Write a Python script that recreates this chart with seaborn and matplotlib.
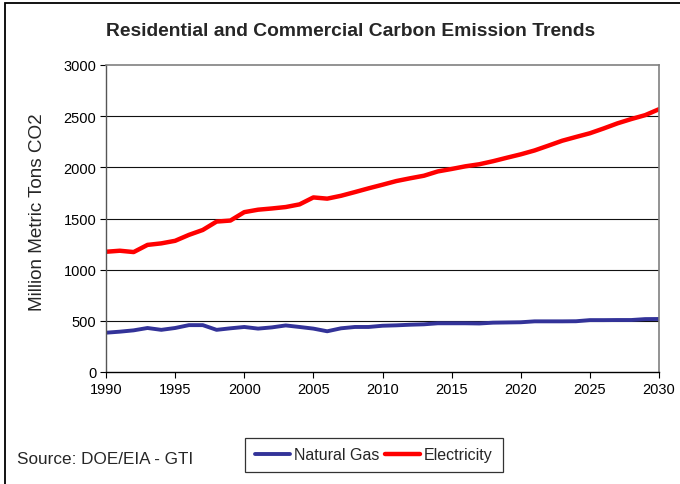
import matplotlib
matplotlib.use("Agg")
import matplotlib.pyplot as plt
from matplotlib.patches import Rectangle
import seaborn as sns
import pandas as pd

years = list(range(1990, 2031))
electricity = [1175, 1185, 1172, 1242, 1257, 1282, 1340, 1388, 1470, 1480,
               1562, 1586, 1598, 1612, 1638, 1706, 1694, 1722, 1758, 1795,
               1830, 1866, 1893, 1918, 1960, 1984, 2010, 2030, 2060, 2094,
               2127, 2165, 2212, 2260, 2297, 2333, 2380, 2430, 2472, 2510,
               2568]
natural_gas = [384, 394, 407, 430, 412, 430, 458, 458, 412, 427,
               440, 424, 436, 455, 440, 424, 398, 427, 440, 440,
               452, 456, 462, 466, 476, 476, 476, 474, 482, 484,
               486, 495, 495, 495, 496, 507, 507, 508, 508, 517,
               518]
series_names = ["Natural Gas", "Electricity"]
y_ticks = [0, 500, 1000, 1500, 2000, 2500, 3000]
x_ticks = [1990, 1995, 2000, 2005, 2010, 2015, 2020, 2025, 2030]

df = pd.DataFrame({
    "Year": years * 2,
    "Emissions": natural_gas + electricity,
    "Series": [series_names[0]] * len(years) + [series_names[1]] * len(years),
})

sns.set_theme(style="white")
plt.rcParams["font.family"] = ["Liberation Sans", "DejaVu Sans"]

fig = plt.figure(figsize=(6.8, 4.85), dpi=100)
ax = fig.add_axes([106 / 680, 1 - 373 / 485, (659 - 106) / 680, (373 - 66) / 485])

palette = {"Natural Gas": "#333399", "Electricity": "#FF0000"}
widths = {"Natural Gas": 2.8, "Electricity": 3.2}
sns.lineplot(data=df, x="Year", y="Emissions", hue="Series", palette=palette,
             ax=ax, legend=False)
for line, name in zip(ax.get_lines(), series_names):
    line.set_linewidth(widths[name])
    line.set_solid_joinstyle("round")

ax.set_xlim(1990, 2030)
ax.set_ylim(0, 3000)
ax.set_xticks(x_ticks)
ax.set_yticks(y_ticks)
ax.set_xlabel("")
ax.set_ylabel("")
ax.tick_params(axis="both", which="major", direction="out", length=4,
               width=0.8, color="black", labelsize=10.5, pad=3,
               labelcolor="black")
ax.tick_params(axis="x", bottom=True)
ax.tick_params(axis="y", left=True)
for yv in y_ticks[1:-1]:
    ax.axhline(yv, color="#111111", lw=0.8, zorder=0.5)

for side in ["top", "right"]:
    ax.spines[side].set_color("#808080")
    ax.spines[side].set_linewidth(1.2)
ax.spines["left"].set_color("#555555")
ax.spines["left"].set_linewidth(1.0)
ax.spines["bottom"].set_color("black")
ax.spines["bottom"].set_linewidth(1.0)

fig.text(351 / 680, 1 - 31 / 485,
         "Residential and Commercial Carbon Emission Trends",
         ha="center", va="center", fontsize=13.9, fontweight="bold")
fig.text(38 / 680, 1 - 212 / 485, "Million Metric Tons CO2", rotation=90,
         ha="center", va="center", fontsize=13.6)
fig.text(17 / 680, 1 - 460 / 485, "Source: DOE/EIA - GTI",
         ha="left", va="center", fontsize=12.3)

handles = [plt.Line2D([], [], color=palette[n], lw=widths[n]) for n in series_names]
leg = fig.legend(handles, series_names, loc="center",
                 bbox_to_anchor=(374 / 680, 1 - 456 / 485), ncol=2,
                 fontsize=11.5, frameon=True, fancybox=False,
                 handlelength=2.2, handletextpad=0.25, columnspacing=0.35,
                 borderpad=0.6, borderaxespad=0)
leg.get_frame().set_edgecolor("black")
leg.get_frame().set_linewidth(0.9)

fig.patches.append(Rectangle((4.5 / 680, -0.1), 1.2, 1.1 - 3.5 / 485,
                             transform=fig.transFigure, fill=False,
                             edgecolor="black", lw=1.3))

fig.savefig("out.png", dpi=100)
